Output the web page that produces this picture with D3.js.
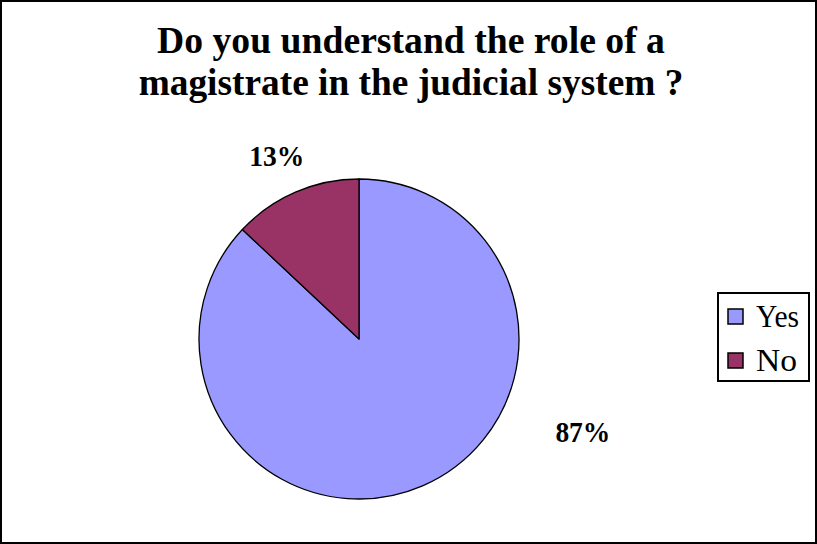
<!DOCTYPE html>
<html>
<head>
<meta charset="utf-8">
<script src="https://cdn.jsdelivr.net/npm/d3@7"></script>
</head>
<body style="margin:0">
<script>
// Survey answers
const categories = ["Yes", "No"];
const values = [87, 13];
const colors = ["#9999FF", "#993366"];
const titleLines = ["Do you understand the role of a", "magistrate in the judicial system ?"];

const W = 817, H = 544;
const cx = 359, cy = 339, R = 160;
const FONT = '"Liberation Serif", "Times New Roman", Tinos, serif';

const svg = d3.select("body").append("svg")
  .attr("width", W).attr("height", H)
  .style("display", "block")
  .attr("font-family", FONT)
  .style("font-family", FONT);

// Squeeze a text element horizontally so it spans the given width
function condense(node, width, x, y) {
  const w = node.getComputedTextLength();
  const sx = w > 0 ? width / w : 1;
  d3.select(node).attr("transform", `translate(${x},${y}) scale(${sx},1)`);
}

// Outer frame
svg.append("rect")
  .attr("x", 1).attr("y", 1)
  .attr("width", W - 2).attr("height", H - 2)
  .attr("fill", "#fff").attr("stroke", "#000").attr("stroke-width", 2);

// Title, two condensed bold lines
const titleWidths = [508, 545];
svg.append("g").selectAll("text")
  .data(titleLines)
  .join("text")
  .attr("text-anchor", "middle")
  .attr("font-weight", "bold")
  .attr("font-size", 38)
  .style("font-family", FONT)
  .text(d => d)
  .each(function (d, i) { condense(this, titleWidths[i], 411, 53 + i * 42); });

// Pie: starts at 12 o'clock, runs clockwise
const total = d3.sum(values);
const pie = d3.pie().sort(null).value(d => d.value);
const data = categories.map((c, i) => ({ name: c, value: values[i], color: colors[i] }));
const arcs = pie(data);
const arc = d3.arc().innerRadius(0).outerRadius(R);

const g = svg.append("g").attr("transform", `translate(${cx},${cy})`);
g.selectAll("path")
  .data(arcs)
  .join("path")
  .attr("d", arc)
  .attr("fill", d => d.data.color)
  .attr("stroke", "#000")
  .attr("stroke-width", 1.3)
  .attr("stroke-linejoin", "round");

// Percentage labels placed outside their slices
const labelPlace = { "Yes": { angle: 113, r: 1.52 }, "No": { angle: 335.5, r: 1.24 } };
g.selectAll("text.pct")
  .data(arcs)
  .join("text")
  .attr("class", "pct")
  .attr("text-anchor", "middle")
  .attr("font-weight", "bold")
  .attr("font-size", 30)
  .style("font-family", FONT)
  .text(d => Math.round(d.data.value / total * 100) + "%")
  .each(function (d) {
    const p = labelPlace[d.data.name];
    const a = p.angle * Math.PI / 180;
    condense(this, 55, Math.sin(a) * R * p.r, -Math.cos(a) * R * p.r + 8);
  });

// Legend
const legend = svg.append("g").attr("transform", "translate(718,293)");
legend.append("rect")
  .attr("x", 0).attr("y", 0).attr("width", 91).attr("height", 88)
  .attr("fill", "#fff").attr("stroke", "#000").attr("stroke-width", 2);

const item = legend.selectAll("g.item")
  .data(data)
  .join("g")
  .attr("class", "item")
  .attr("transform", (d, i) => `translate(10,${16 + i * 44})`);

item.append("rect")
  .attr("width", 15).attr("height", 15)
  .attr("fill", d => d.color)
  .attr("stroke", "#000").attr("stroke-width", 1.5);

item.append("text")
  .attr("font-size", 32)
  .style("font-family", FONT)
  .text(d => d.name)
  .each(function (d) { condense(this, d.name === "Yes" ? 43 : 41, 28, 18); });
</script>
</body>
</html>
